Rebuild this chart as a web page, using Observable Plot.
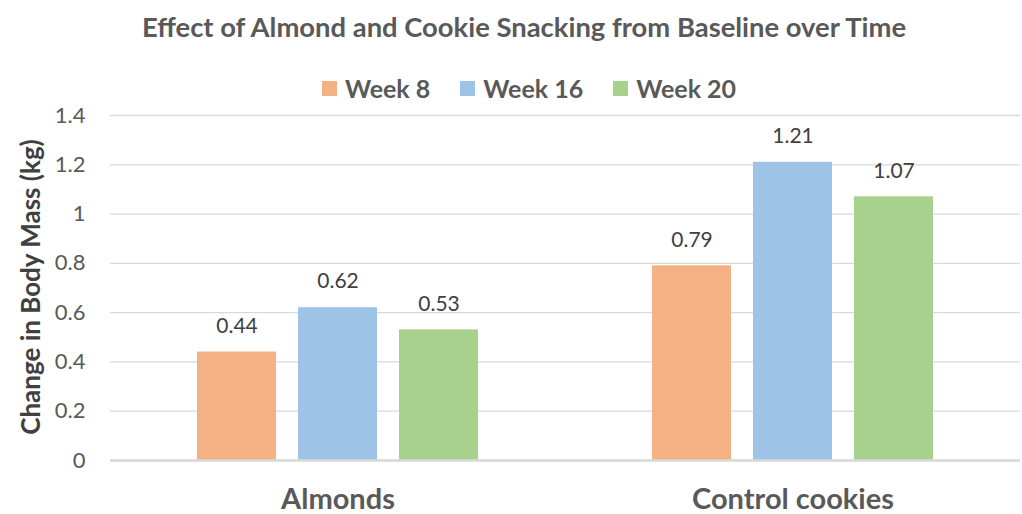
<!DOCTYPE html>
<html>
<head>
<meta charset="utf-8">
<script src="https://cdn.jsdelivr.net/npm/d3@7"></script>
<script src="https://cdn.jsdelivr.net/npm/@observablehq/plot@0.6"></script>
<style>
  html, body { margin: 0; padding: 0; background: #fff; }
  #wrap { position: relative; width: 1022px; height: 514px; font-family: Lato, "Open Sans", sans-serif; color: #595959; overflow: hidden; }
  #title { position: absolute; top: 11px; left: 13px; width: 1022px; text-align: center; font-size: 27.4px; font-weight: bold; line-height: 32px; z-index: 2; }
  #legend { position: absolute; top: 72px; left: 18px; width: 1022px; display: flex; justify-content: center; gap: 30px; font-size: 25px; font-weight: bold; line-height: 32px; z-index: 2; }
  #legend .item { display: flex; align-items: center; gap: 8px; }
  #legend .sw { width: 15px; height: 15px; display: inline-block; }
  #ylabel { position: absolute; left: 30px; top: 287px; transform: translate(-50%, -50%) rotate(-90deg); white-space: nowrap; font-size: 26px; font-weight: bold; color: #404040; z-index: 2; }
  #chart { position: absolute; top: 100px; left: 0; z-index: 1; }
</style>
</head>
<body>
<div id="wrap">
  <div id="title"></div>
  <div id="legend"></div>
  <div id="ylabel"></div>
  <div id="chart"></div>
</div>
<script>
const categories = ["Almonds", "Control cookies"];
const weeks = ["Week 8", "Week 16", "Week 20"];
const week8 = [0.44, 0.79];
const week16 = [0.62, 1.21];
const week20 = [0.53, 1.07];
const colors = ["#F4B183", "#9DC3E6", "#A9D18E"];
const yTicks = [0, 0.2, 0.4, 0.6, 0.8, 1, 1.2, 1.4];
const titleText = "Effect of Almond and Cookie Snacking from Baseline over Time";
const yLabelText = "Change in Body Mass (kg)";

const series = [week8, week16, week20];
const data = [];
categories.forEach((c, i) => weeks.forEach((w, j) => data.push({category: c, week: w, value: series[j][i]})));

document.getElementById("title").textContent = titleText;
document.getElementById("ylabel").textContent = yLabelText;
const legend = document.getElementById("legend");
weeks.forEach((w, j) => {
  const item = document.createElement("div");
  item.className = "item";
  const sw = document.createElement("span");
  sw.className = "sw";
  sw.style.background = colors[j];
  const t = document.createElement("span");
  t.textContent = w;
  item.appendChild(sw); item.appendChild(t);
  legend.appendChild(item);
});

const chart = Plot.plot({
  width: 1022,
  height: 414,
  marginTop: 15,
  marginBottom: 54,
  marginLeft: 110,
  marginRight: 2,
  style: {fontFamily: "Lato, 'Open Sans', sans-serif", color: "#595959", background: "transparent"},
  fx: {domain: categories, padding: 0, label: null},
  x: {domain: weeks, paddingInner: 0.218, paddingOuter: 0.86, axis: null},
  y: {domain: [0, 1.4], ticks: yTicks, label: null},
  color: {domain: weeks, range: colors},
  marks: [
    Plot.gridY(yTicks, {stroke: "#d9d9d9", strokeOpacity: 1, strokeWidth: 1.3}),
    Plot.axisY(yTicks, {tickSize: 0, tickPadding: 25, fontSize: 22, fill: "#595959", label: null, tickFormat: d => String(+d.toFixed(1))}),
    Plot.axisFx({anchor: "bottom", tickSize: 0, tickPadding: 28, fontSize: 29, fontWeight: "bold", fill: "#595959", label: null}),
    Plot.barY(data, {fx: "category", x: "week", y: "value", fill: "week"}),
    Plot.ruleY([0], {stroke: "#d9d9d9", strokeWidth: 2.5}),
    Plot.text(data, {fx: "category", x: "week", y: "value", text: d => d.value.toFixed(2), dy: -26, fontSize: 21, fill: "#404040"})
  ]
});
document.getElementById("chart").appendChild(chart);
</script>
</body>
</html>
